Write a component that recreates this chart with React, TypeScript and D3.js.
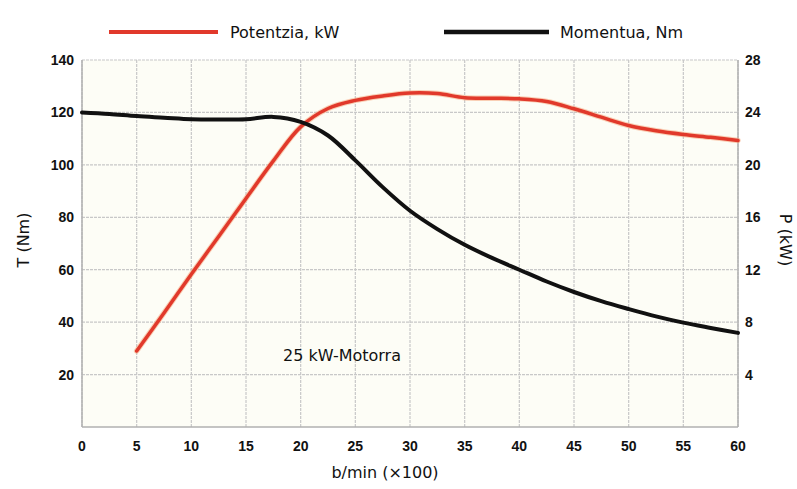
import React from "react";
import * as d3 from "d3";

const rpmTorque = [0, 2.5, 5, 7.5, 10, 12.5, 15, 17.5, 20, 22.5, 25, 27.5, 30, 32.5, 35, 37.5, 40, 42.5, 45, 47.5, 50, 52.5, 55, 57.5, 60];
const torqueNm = [120, 119.4, 118.6, 118, 117.4, 117.3, 117.4, 118.3, 116.4, 111.2, 101.7, 91.5, 82.5, 75.5, 69.5, 64.5, 60, 55.5, 51.5, 48, 45, 42.2, 39.8, 37.8, 35.9];
const rpmPower = [5, 7.5, 10, 12.5, 15, 17.5, 20, 22.5, 25, 27.5, 30, 32.5, 35, 37.5, 40, 42.5, 45, 47.5, 50, 52.5, 55, 57.5, 60];
const powerKw = [5.8, 8.7, 11.66, 14.54, 17.44, 20.3, 22.9, 24.3, 24.92, 25.26, 25.48, 25.44, 25.12, 25.08, 25.04, 24.84, 24.28, 23.64, 23, 22.6, 22.32, 22.1, 21.86];

const xTicks = [0, 5, 10, 15, 20, 25, 30, 35, 40, 45, 50, 55, 60];
const leftTicks = [20, 40, 60, 80, 100, 120, 140];
const rightTicks = [4, 8, 12, 16, 20, 24, 28];

const W = 797, H = 489;
const L = 82, R = 738, T = 60, B = 427;

export default function App() {
  const x = d3.scaleLinear().domain([0, 60]).range([L, R]);
  const yT = d3.scaleLinear().domain([0, 140]).range([B, T]);
  const yP = d3.scaleLinear().domain([0, 28]).range([B, T]);

  const torqueLine = d3
    .line<number>()
    .x((_, i) => x(rpmTorque[i]))
    .y((d) => yT(d))
    .curve(d3.curveCatmullRom)(torqueNm) as string;
  const powerLine = d3
    .line<number>()
    .x((_, i) => x(rpmPower[i]))
    .y((d) => yP(d))
    .curve(d3.curveCatmullRom)(powerKw) as string;

  const tickFont = { fontFamily: "'Liberation Sans', Arial, sans-serif", fontWeight: 700, fontSize: 14, fill: "#111" } as const;
  const labelFont = { fontFamily: "'DejaVu Sans', Verdana, sans-serif", fontSize: 16, fill: "#111" } as const;

  return (
    <svg width={W} height={H} style={{ position: "absolute", left: 0, top: 0, background: "#fff" }}>
      <rect x={0} y={0} width={W} height={H} fill="#fff" />
      <rect x={L} y={T} width={R - L} height={B - T} fill="#fdfdf6" />
      {xTicks.map((t) => (
        <line key={"vx" + t} x1={x(t)} x2={x(t)} y1={T} y2={B} stroke="#c8c8c8" strokeWidth={1.2} strokeDasharray="3 1" />
      ))}
      {leftTicks.map((t) => (
        <line key={"hy" + t} x1={L} x2={R} y1={yT(t)} y2={yT(t)} stroke="#c8c8c8" strokeWidth={1.2} strokeDasharray="3 1" />
      ))}
      <line x1={L} x2={L} y1={T} y2={B} stroke="#b0b0b0" strokeWidth={1.5} />
      <line x1={R} x2={R} y1={T} y2={B} stroke="#b0b0b0" strokeWidth={1.5} />
      <line x1={L} x2={R} y1={B} y2={B} stroke="#b0b0b0" strokeWidth={1.5} />

      {xTicks.map((t) => (
        <text key={"xt" + t} x={x(t)} y={B + 24} textAnchor="middle" style={tickFont}>{t}</text>
      ))}
      {leftTicks.map((t) => (
        <text key={"lt" + t} x={74} y={yT(t) + 5} textAnchor="end" style={tickFont}>{t}</text>
      ))}
      {rightTicks.map((t) => (
        <text key={"rt" + t} x={745} y={yP(t) + 5} textAnchor="start" style={tickFont}>{t}</text>
      ))}

      <path d={powerLine} fill="none" stroke="#f7b08a" strokeWidth={5.5} strokeLinecap="round" opacity={0.6} />
      <path d={powerLine} fill="none" stroke="#e1392b" strokeWidth={3.5} strokeLinecap="round" />
      <path d={torqueLine} fill="none" stroke="#111" strokeWidth={4} strokeLinecap="round" />

      <text x={283} y={361} style={labelFont}>25 kW-Motorra</text>
      <text x={385} y={478} textAnchor="middle" style={labelFont}>b/min (×100)</text>
      <text transform={`translate(29,240) rotate(-90)`} textAnchor="middle" style={labelFont}>T (Nm)</text>
      <text transform={`translate(780,240) rotate(90)`} textAnchor="middle" style={labelFont}>P (kW)</text>

      <line x1={109} x2={218} y1={32} y2={32} stroke="#e1392b" strokeWidth={4} />
      <text x={230} y={38} style={labelFont}>Potentzia, kW</text>
      <line x1={444} x2={549} y1={32} y2={32} stroke="#111" strokeWidth={4.5} />
      <text x={560} y={38} style={labelFont}>Momentua, Nm</text>
    </svg>
  );
}
